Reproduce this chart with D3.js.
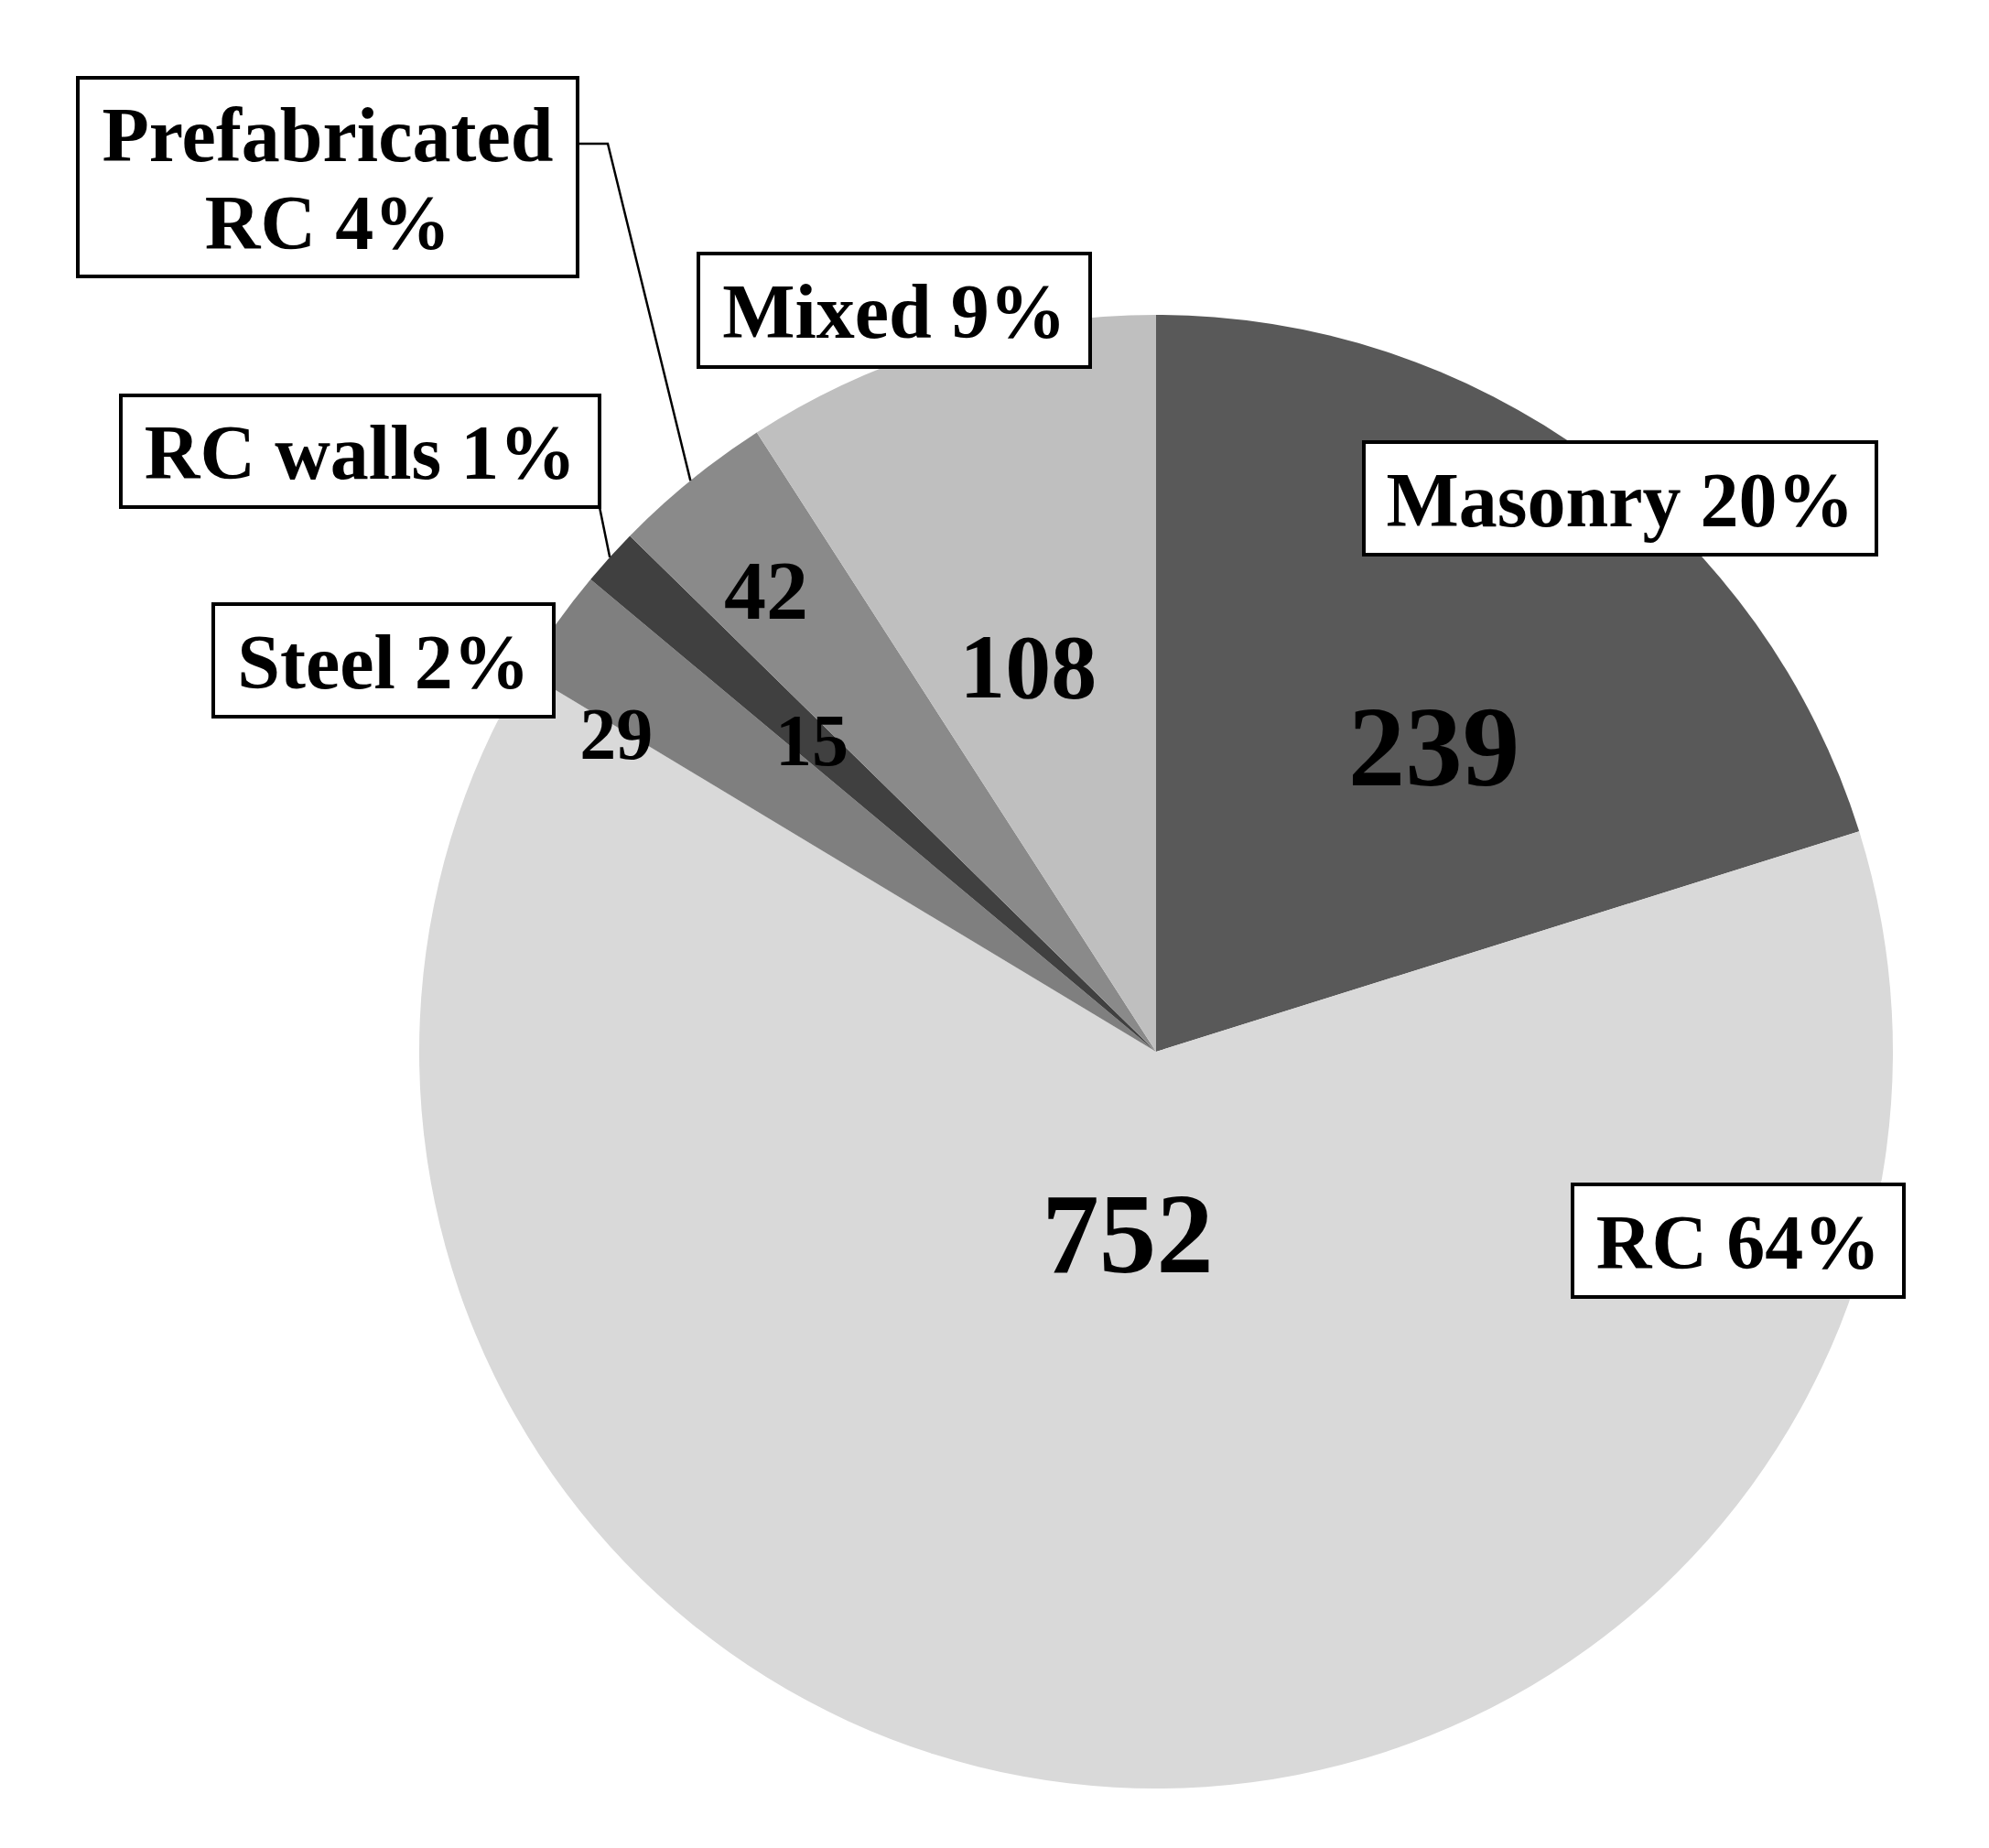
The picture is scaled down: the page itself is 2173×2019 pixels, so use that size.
<!DOCTYPE html>
<html>
<head>
<meta charset="utf-8">
<script src="https://cdn.jsdelivr.net/npm/d3@7"></script>
<style>
  body { margin: 0; background: #fff; }
  text { font-family: "Liberation Serif", "Times New Roman", serif; font-weight: bold; fill: #000; }
</style>
</head>
<body>
<div class="container"></div>
<script>
// data
var categories = ["Masonry", "RC", "Steel", "RC walls", "Prefabricated RC", "Mixed"];
var counts = [239, 752, 29, 15, 42, 108];
var percentLabels = ["20%", "64%", "2%", "1%", "4%", "9%"];

var colours = ["#595959", "#d9d9d9", "#7f7f7f", "#404040", "#8a8a8a", "#bfbfbf"];

var width = 2173, height = 2019;
var cx = 1263, cy = 1149, R = 805;

var svg = d3.select(".container").append("svg")
    .attr("width", width)
    .attr("height", height);

var g = svg.append("g").attr("transform", "translate(" + cx + "," + cy + ")");

var pie = d3.pie().sort(null).value(function (d) { return d; });
var arcs = pie(counts);
var arc = d3.arc().innerRadius(0).outerRadius(R);

g.selectAll("path.slice")
  .data(arcs)
  .enter().append("path")
  .attr("class", "slice")
  .attr("d", arc)
  .style("fill", function (d, i) { return colours[i]; });

// value labels inside slices
var valueRadius = [0.56, 0.25, 0.85, 0.63, 0.82, 0.55];
var valueAngleShift = [6, 2, -5, 0, -1, -2];
var valueSize = [125, 125, 80, 80, 92, 100];

function polar(a, r) {
  return [Math.sin(a) * r, -Math.cos(a) * r];
}

g.selectAll("text.value")
  .data(arcs)
  .enter().append("text")
  .attr("class", "value")
  .attr("text-anchor", "middle")
  .attr("dominant-baseline", "central")
  .style("font-size", function (d, i) { return valueSize[i] + "px"; })
  .attr("transform", function (d, i) {
    var a = (d.startAngle + d.endAngle) / 2 + valueAngleShift[i] * Math.PI / 180;
    var p = polar(a, R * valueRadius[i]);
    return "translate(" + p[0] + "," + p[1] + ")";
  })
  .text(function (d) { return d.data; });

// category boxes (absolute page layout)
var boxes = [
  { x: 1490, y: 483, w: 560, h: 123 },
  { x: 1718, y: 1294, w: 362, h: 123 },
  { x: 233, y: 660, w: 372, h: 123 },
  { x: 132, y: 432, w: 523, h: 122 },
  { x: 85, y: 85, w: 546, h: 217 },
  { x: 763, y: 277, w: 428, h: 124 }
];

// leader lines for the thin slices
function leader(i, pts) {
  var d = arcs[i];
  var p = polar((d.startAngle + d.endAngle) / 2, R);
  pts.push([cx + p[0], cy + p[1]]);
  svg.append("path")
    .attr("d", d3.line()(pts))
    .attr("fill", "none")
    .attr("stroke", "#000")
    .attr("stroke-width", 2.5);
}
leader(4, [[631, 157], [664, 157]]);
leader(3, [[655, 554]]);

var labelGroups = svg.selectAll("g.lbl")
  .data(categories)
  .enter().append("g")
  .attr("class", "lbl");

labelGroups.append("rect")
  .attr("x", function (d, i) { return boxes[i].x; })
  .attr("y", function (d, i) { return boxes[i].y; })
  .attr("width", function (d, i) { return boxes[i].w; })
  .attr("height", function (d, i) { return boxes[i].h; })
  .attr("fill", "#fff")
  .attr("stroke", "#000")
  .attr("stroke-width", 4);

labelGroups.each(function (d, i) {
  var b = boxes[i];
  var lines = d === "Prefabricated RC" ? ["Prefabricated", "RC " + percentLabels[i]] : [d + " " + percentLabels[i]];
  var t = d3.select(this).append("text")
    .attr("text-anchor", "middle")
    .style("font-size", "84px");
  var lh = 96;
  var y0 = b.y + b.h / 2 - (lines.length - 1) * lh / 2 + 30;
  lines.forEach(function (l, k) {
    t.append("tspan").attr("x", b.x + b.w / 2).attr("y", y0 + k * lh).text(l);
  });
});
</script>
</body>
</html>
